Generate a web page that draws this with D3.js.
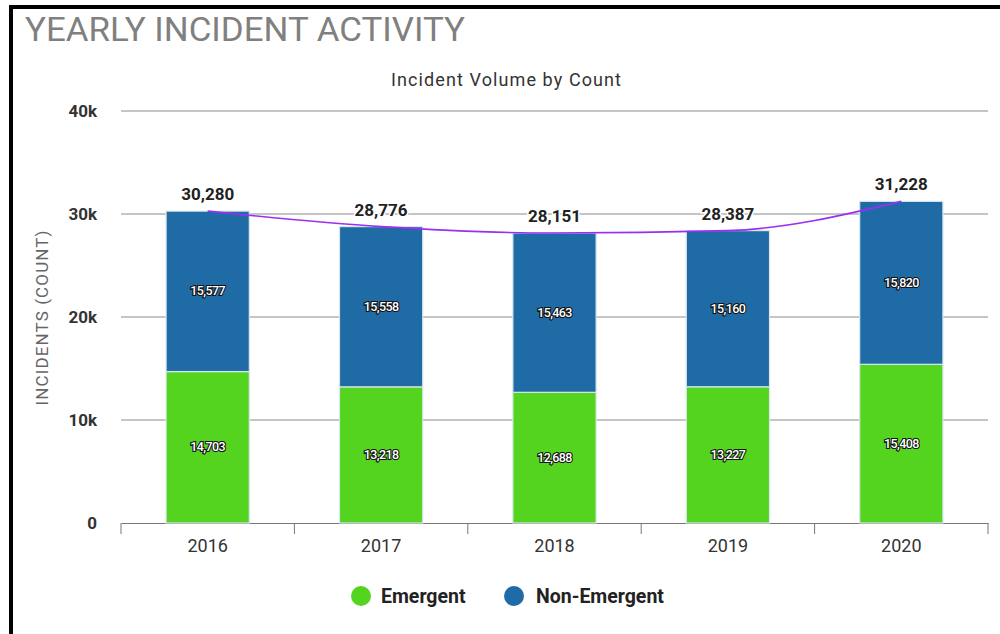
<!DOCTYPE html>
<html><head><meta charset="utf-8">
<script src="https://cdn.jsdelivr.net/npm/d3@7/dist/d3.min.js"></script>
<style>body{margin:0;background:#fff;font-family:Roboto,"Open Sans",sans-serif}</style>
</head><body><svg id="c" width="1000" height="634"></svg>
<script>
const years = ["2016","2017","2018","2019","2020"];
const emergent = [14703,13218,12688,13227,15408];
const nonEmergent = [15577,15558,15463,15160,15820];
const totals = [30280,28776,28151,28387,31228];
const yTicks = [0,10000,20000,30000,40000];
const seriesNames = ["Emergent","Non-Emergent"];
const colors = ["#55d41f","#1f6ba6"];

const svg = d3.select("#c");
// frame
svg.append("rect").attr("x",9).attr("y",5).attr("width",991).attr("height",4).attr("fill","#000");
svg.append("rect").attr("x",9).attr("y",5).attr("width",4).attr("height",629).attr("fill","#000");

svg.append("text").attr("x",25).attr("y",41).attr("font-size",34).attr("font-weight",400)
  .attr("fill","#808080").attr("textLength",440).attr("lengthAdjust","spacingAndGlyphs").text("YEARLY INCIDENT ACTIVITY");
svg.append("text").attr("x",506).attr("y",86).attr("text-anchor","middle").attr("font-size",18)
  .attr("fill","#333").attr("textLength",230).text("Incident Volume by Count");

const x = d3.scaleBand().domain(years).range([121,988]);
const y = d3.scaleLinear().domain([0,40000]).range([523,111]);

// grid
svg.append("g").selectAll("line").data(yTicks.filter(d=>d>0)).join("line")
  .attr("x1",121).attr("x2",988).attr("y1",d=>y(d)).attr("y2",d=>y(d))
  .attr("stroke","#8c8c8c").attr("stroke-width",1);
// y labels
svg.append("g").selectAll("text").data(yTicks).join("text")
  .attr("x",97).attr("y",d=>y(d)+6).attr("text-anchor","end").attr("font-size",17).attr("font-weight",700)
  .attr("fill","#333").text(d=>d===0?"0":(d/1000)+"k");
svg.append("text").attr("transform","translate(48,318) rotate(-90)").attr("text-anchor","middle")
  .attr("font-size",17).attr("fill","#666").attr("textLength",175).text("INCIDENTS (COUNT)");

// x axis
const xa = svg.append("g").attr("transform","translate(0,523)")
  .call(d3.axisBottom(x).tickSize(0).tickPadding(16));
xa.select(".domain").attr("stroke","#777");
xa.selectAll("text").attr("font-size",18).attr("fill","#333").attr("font-family","Roboto");
const edges = years.map(d=>x(d)).concat([x.range()[1]]);
svg.append("g").selectAll("line").data(edges).join("line")
  .attr("x1",d=>d).attr("x2",d=>d).attr("y1",523).attr("y2",534).attr("stroke","#777");

// bars
const bw = x.bandwidth()*0.48;
const cx = d => x(d)+x.bandwidth()/2;
const stack = years.map((yr,i)=>[
  {yr, y0:0, y1:emergent[i], v:emergent[i], c:colors[0]},
  {yr, y0:emergent[i], y1:emergent[i]+nonEmergent[i], v:nonEmergent[i], c:colors[1]}
]).flat();
svg.append("g").selectAll("rect").data(stack).join("rect")
  .attr("x",d=>cx(d.yr)-bw/2).attr("width",bw)
  .attr("y",d=>y(d.y1)).attr("height",d=>y(d.y0)-y(d.y1))
  .attr("fill",d=>d.c).attr("stroke","#d8e6ee").attr("stroke-width",1.2);
svg.append("g").selectAll("text").data(stack).join("text")
  .attr("x",d=>cx(d.yr)).attr("y",d=>(y(d.y0)+y(d.y1))/2+4).attr("text-anchor","middle")
  .attr("font-size",12.5).attr("font-weight",500).attr("fill","#fff").attr("stroke","#111").attr("stroke-width",2.2)
  .attr("paint-order","stroke").attr("letter-spacing",-0.6).text(d=>d3.format(",")(d.v));

// line
const line = d3.line().x((d,i)=>cx(years[i])).y(d=>y(d)).curve(d3.curveMonotoneX);
svg.append("path").attr("d",line(totals)).attr("fill","none").attr("stroke","#9a2ff2").attr("stroke-width",1.6);

svg.append("g").selectAll("text").data(totals).join("text")
  .attr("x",(d,i)=>cx(years[i])).attr("y",d=>y(d)-11).attr("text-anchor","middle")
  .attr("font-size",17).attr("font-weight",700).attr("fill","#222").attr("stroke","#fff").attr("stroke-width",3)
  .attr("paint-order","stroke").text(d=>d3.format(",")(d));

// legend
const lg = [{n:seriesNames[0],c:colors[0],x:361,tx:381},{n:seriesNames[1],c:colors[1],x:514,tx:536}];
const lgG = svg.append("g").selectAll("g").data(lg).join("g");
lgG.append("circle").attr("cx",d=>d.x).attr("cy",596).attr("r",10).attr("fill",d=>d.c);
lgG.append("text").attr("x",d=>d.tx).attr("y",603).attr("font-size",19.5).attr("font-weight",700)
  .attr("fill","#222").text(d=>d.n);
</script></body></html>
